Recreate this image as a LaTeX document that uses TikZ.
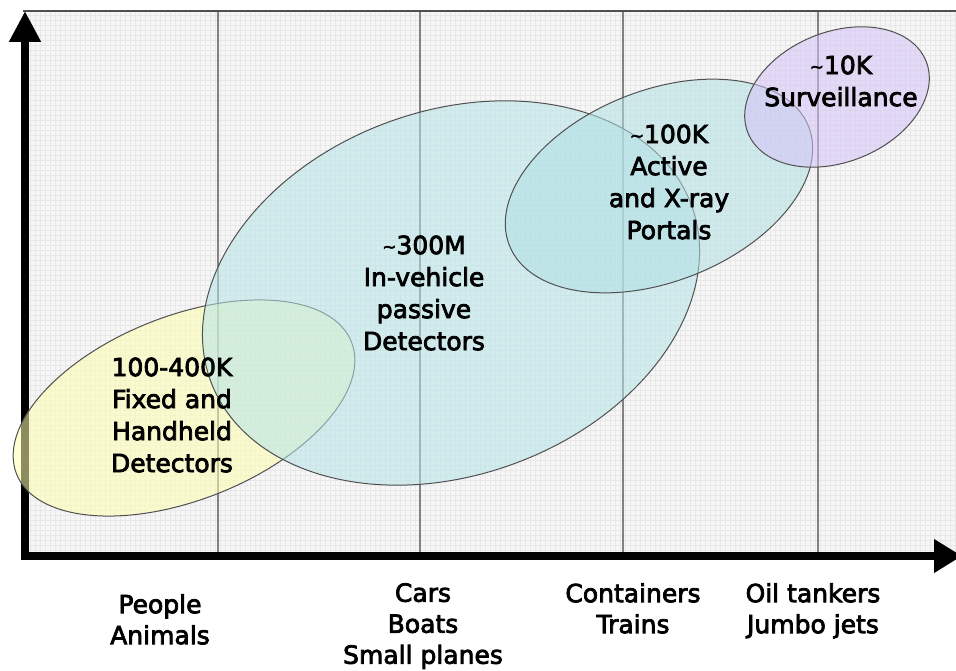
\documentclass[tikz,border=0pt]{standalone}
\usepackage{fontspec}
\setmainfont{DejaVu Sans}[FakeBold=3]
\usetikzlibrary{arrows.meta}

\definecolor{gridbg}{RGB}{246,246,246}
\definecolor{gridln}{RGB}{232,232,232}
\definecolor{divln}{RGB}{130,130,130}
\definecolor{rimln}{RGB}{80,80,80}
\definecolor{fixedfill}{RGB}{255,255,175}
\definecolor{vehiclefill}{RGB}{182,228,232}
\definecolor{portalfill}{RGB}{178,225,229}
\definecolor{survfill}{RGB}{212,195,248}

\newcommand{\apx}{{\fontsize{17}{17}\selectfont\raisebox{1.5pt}{\textasciitilde}}}

\begin{document}
\begin{tikzpicture}[x=1pt,y=1pt,
    blob/.style={draw=rimln, line width=1pt, fill opacity=0.55},
    txt/.style={align=center, inner sep=0pt, font=\fontsize{25}{32}\selectfont},
    cat/.style={align=center, inner sep=0pt, anchor=north, font=\fontsize{25}{31}\selectfont},
    axis/.style={line width=8pt}]
    \useasboundingbox (0,0) rectangle (956,670);
    % plot area
    \fill[gridbg] (28,118) rectangle (956,659);
    \draw[gridln, line width=0.4pt, step=5] (28,118) grid (956,659);
    \foreach \xd in {218,420,623,818}
      \draw[divln, line width=1.2pt] (\xd,118) -- (\xd,659);
    \draw[rimln, line width=1.8pt] (23,659) -- (956,659);
    % axes
    \draw[axis, -{Triangle[width=30pt,length=31pt]}] (25,110) -- (25,659);
    \draw[axis, -{Triangle[width=32pt,length=28pt]}] (21,114) -- (962,114);
    % ellipses
    \draw[blob, fill=fixedfill, rotate around={21.5:(184,262)}] (184,262) ellipse [x radius=180, y radius=92];
    \draw[blob, fill=vehiclefill, rotate around={20:(451,377)}] (451,377) ellipse [x radius=256, y radius=182];
    \draw[blob, fill=portalfill, rotate around={21.7:(659,484)}] (659,484) ellipse [x radius=161, y radius=95.5];
    \draw[blob, fill=survfill, rotate around={22:(837,573)}] (837,573) ellipse [x radius=96, y radius=65];
    % labels
    \node[txt] (fixedlbl) at (172,255) {100-400K\\Fixed and\\Handheld\\Detectors};
    \node[txt] (vehiclelbl) at (424,377) {\apx300M\\In-vehicle\\passive\\Detectors};
    \node[txt] (portallbl) at (669,488) {\apx100K\\Active\\and X-ray\\Portals};
    \node[txt] (survlbl) at (841,589) {\apx10K\\Surveillance};
    \node[cat] (people) at (160,76) {People\\Animals};
    \node[cat] (cars) at (423,87) {Cars\\Boats\\Small planes};
    \node[cat] (containers) at (633,87) {Containers\\Trains};
    \node[cat] (tankers) at (813,87) {Oil tankers\\Jumbo jets};
\end{tikzpicture}
\end{document}
